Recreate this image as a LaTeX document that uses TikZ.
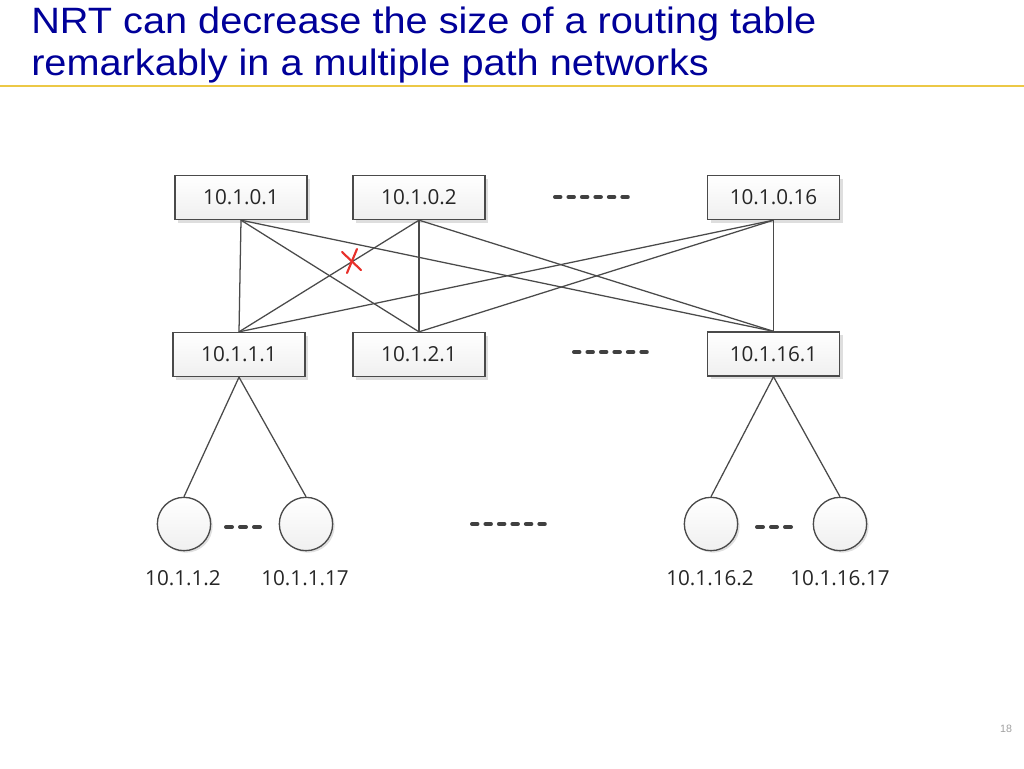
\documentclass[tikz,border=0pt]{standalone}
\usepackage{fontspec}
\setmainfont{Open Sans}
\newfontfamily\titlefont{Liberation Sans}
\usetikzlibrary{shadows}
\definecolor{navy}{HTML}{000099}
\definecolor{ruleyellow}{RGB}{236,200,70}
\definecolor{boxline}{HTML}{4A4A4A}
\definecolor{boxfill}{HTML}{F7F7F7}
\definecolor{linkc}{HTML}{4A4A4A}
\definecolor{txt}{HTML}{262626}
\definecolor{dotc}{HTML}{404040}
\definecolor{redx}{HTML}{E8302A}
\definecolor{pagenum}{HTML}{A0A0A0}
\begin{document}
\begin{tikzpicture}[x=0.75pt,y=-0.75pt,
  box/.style={draw=boxline, line width=1pt, top color=white, bottom color=boxfill!85!gray!60,
    minimum width=99pt, minimum height=33pt, inner sep=0pt,
    font=\fontsize{15.5}{18}\selectfont, text=txt,
    drop shadow={shadow xshift=2.5pt, shadow yshift=-2.5pt, fill=black, opacity=0.13}},
  leaf/.style={circle, draw=boxline, line width=1pt, top color=white, bottom color=boxfill!85!gray!60,
    minimum size=40pt, inner sep=0pt,
    drop shadow={shadow xshift=1.5pt, shadow yshift=-1.5pt, fill=black, opacity=0.12}},
  lbl/.style={font=\fontsize{15.5}{18}\selectfont, text=txt, inner sep=0pt},
  link/.style={draw=linkc, line width=0.95pt},
  dots/.style={draw=dotc, line width=3pt, line cap=round, dash pattern=on 4.1pt off 6pt},
  sdots/.style={draw=dotc, line width=3pt, line cap=round, dash pattern=on 4.5pt off 6pt},
  titletxt/.style={font=\titlefont\fontsize{27.5}{31}\selectfont, text=navy, inner sep=0pt, anchor=base west}
]
\useasboundingbox (0,0) rectangle (1024,768);

% title
\node[titletxt] (t1) at (31,33) {\scalebox{1.083}[1]{NRT can decrease the size of a routing table}};
\node[titletxt] (t2) at (31,75) {\scalebox{1.083}[1]{remarkably in a multiple path networks}};
\fill[ruleyellow] (0,84.5) rectangle (1024,86.5);

% top row
\node[box] (a1) at (241,197.5) {10.1.0.1};
\node[box] (a2) at (419,197.5) {10.1.0.2};
\node[box] (a16) at (773.5,197.5) {10.1.0.16};
% middle row
\node[box] (b1) at (239,354.5) {10.1.1.1};
\node[box] (b2) at (419,354.5) {10.1.2.1};
\node[box] (b16) at (773.5,354) {10.1.16.1};

% full mesh
\foreach \u in {a1,a2,a16}{
  \foreach \v in {b1,b2,b16}{
    \draw[link] (\u.south) -- (\v.north);
  }
}

% red cross
\draw[redx, line width=1.6pt, line cap=round] (342,252) -- (361,270);
\draw[redx, line width=1.6pt, line cap=round] (357,249) -- (347,273);

% leaves
\node[leaf] (c1) at (184,524) {};
\node[leaf] (c2) at (306,524) {};
\node[leaf] (c3) at (711,524) {};
\node[leaf] (c4) at (840,524) {};
\draw[link] (b1.south) -- (c1.north);
\draw[link] (b1.south) -- (c2.north);
\draw[link] (b16.south) -- (c3.north);
\draw[link] (b16.south) -- (c4.north);

\node[lbl] (l1) at (183,578) {10.1.1.2};
\node[lbl] (l2) at (305,578) {10.1.1.17};
\node[lbl] (l3) at (710,578) {10.1.16.2};
\node[lbl] (l4) at (840,578) {10.1.16.17};

% ellipsis dashes
\draw[dots] (555,197) -- (628,197);
\draw[dots] (574,352) -- (648,352);
\draw[dots] (472,524) -- (546,524);
\draw[sdots] (226,527) -- (260,527);
\draw[sdots] (757,527) -- (791,527);

% page number
\node[font=\titlefont\fontsize{8}{9}\selectfont, text=pagenum, inner sep=0pt] (pg) at (1006,729) {18};
\end{tikzpicture}
\end{document}
